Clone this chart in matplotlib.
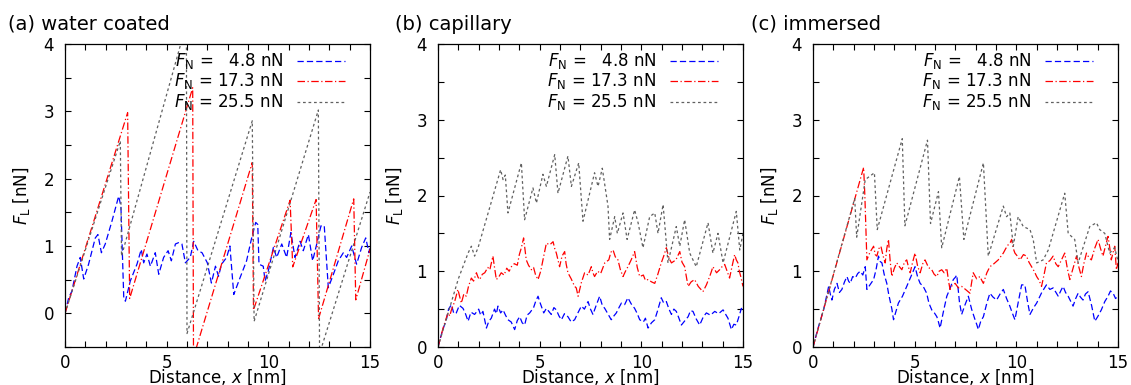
import matplotlib
matplotlib.use("Agg")
import matplotlib.pyplot as plt
from matplotlib.ticker import MultipleLocator

# ---- (a) water coated ----
wc_x_48 = [0, 0.18, 0.34, 0.59, 0.75, 0.92, 1.16, 1.49, 1.62, 1.79, 1.98, 2.31,
           2.64, 2.75, 2.89, 2.97, 3.21, 3.54, 3.75, 3.87, 4.03, 4.2, 4.44, 4.61,
           4.85, 5.07, 5.23, 5.43, 5.59, 5.75, 5.92, 6.16, 6.33, 6.54, 6.74, 7.0,
           7.2, 7.4, 7.55, 7.7, 7.95, 8.11, 8.3, 8.61, 8.93, 9.18, 9.38, 9.48,
           9.54, 9.75, 9.84, 10.0, 10.25, 10.41, 10.66, 10.9, 11.11, 11.31, 11.56,
           11.72, 11.97, 12.18, 12.38, 12.59, 12.75, 12.95, 13.2, 13.44, 13.69,
           13.85, 14.1, 14.34, 14.59, 14.79, 14.95, 15.0]
wc_y_48 = [0, 0.23, 0.33, 0.70, 0.83, 0.51, 0.73, 1.12, 1.17, 0.90, 1.03, 1.37,
           1.74, 1.59, 0.23, 0.18, 0.48, 0.73, 0.95, 0.75, 0.88, 0.70, 0.90, 0.58,
           0.83, 0.93, 0.78, 1.03, 1.05, 1.03, 0.75, 0.83, 1.07, 0.93, 0.90, 0.75,
           0.45, 0.70, 0.55, 0.73, 0.83, 1.0, 0.28, 0.53, 0.78, 1.12, 1.35, 1.32,
           0.73, 0.70, 0.48, 0.63, 0.98, 0.83, 1.03, 0.83, 1.20, 0.83, 1.07,
           0.93, 1.17, 0.78, 1.03, 1.30, 1.30, 0.38, 0.58, 0.78, 0.90,
           0.83, 1.0, 0.73, 0.98, 1.12, 0.90, 1.0]
wc_x_173 = [0, 3.08, 3.18, 6.28, 6.32, 9.21, 9.27, 11.07, 11.2, 12.35, 12.47,
            14.2, 14.3, 15]
wc_y_173 = [0, 2.98, 0.22, 3.35, -0.65, 2.24, 0.05, 1.68, 0.69, 1.69, -0.08,
            1.7, 0.2, 0.95]
wc_x_255 = [0, 2.72, 2.78, 5.97, 6.0, 9.21, 9.3, 12.46, 12.52, 15]
wc_y_255 = [0, 2.56, 0.85, 4.3, -0.3, 2.86, -0.12, 3.02, -0.6, 1.8]

# ---- (b) capillary ----
cap_x_48 = [0, 0.2, 0.41, 0.52, 0.66, 0.78, 0.9, 1.05, 1.23, 1.35, 1.48, 1.62,
            1.8, 2.0, 2.1, 2.21, 2.38, 2.5, 2.62, 2.78, 2.87, 2.95, 3.08, 3.2,
            3.32, 3.44, 3.6, 3.77, 3.9, 4.02, 4.14, 4.26, 4.38, 4.51, 4.7, 4.8,
            4.92, 5.0, 5.08, 5.2, 5.33, 5.45, 5.57, 5.7, 5.82, 5.95, 6.07, 6.22,
            6.39, 6.55, 6.72, 6.88, 7.05, 7.2, 7.38, 7.5, 7.62, 7.78, 7.95, 8.08,
            8.2, 8.35, 8.52, 8.65, 8.77, 8.9, 9.02, 9.18, 9.34, 9.5, 9.67, 9.8,
            9.92, 10.1, 10.2, 10.33, 10.5, 10.66, 10.8, 10.98, 11.1, 11.23, 11.36,
            11.48, 11.6, 11.72, 11.85, 11.97, 12.15, 12.3, 12.42, 12.54, 12.7,
            12.87, 13.05, 13.2, 13.4, 13.61, 13.8, 14.02, 14.15, 14.26, 14.35,
            14.43, 14.55, 14.67, 14.8, 14.92, 15.0]
cap_y_48 = [0, 0.2, 0.36, 0.5, 0.56, 0.44, 0.45, 0.55, 0.51, 0.44, 0.34, 0.46,
            0.43, 0.5, 0.42, 0.47, 0.25, 0.34, 0.38, 0.5, 0.44, 0.54, 0.45, 0.49,
            0.42, 0.36, 0.33, 0.23, 0.35, 0.40, 0.32, 0.29, 0.42, 0.45, 0.52, 0.6,
            0.67, 0.6, 0.54, 0.45, 0.51, 0.47, 0.43, 0.52, 0.49, 0.41, 0.36, 0.44,
            0.40, 0.33, 0.36, 0.45, 0.54, 0.5, 0.60, 0.5, 0.43, 0.55, 0.67, 0.55,
            0.51, 0.44, 0.36, 0.41, 0.45, 0.52, 0.58, 0.56, 0.65, 0.57, 0.51, 0.44,
            0.36, 0.33, 0.38, 0.25, 0.32, 0.36, 0.48, 0.65, 0.58, 0.60, 0.5,
            0.43, 0.5, 0.47, 0.38, 0.29, 0.35, 0.40, 0.48, 0.47, 0.37,
            0.29, 0.4, 0.45, 0.42, 0.47, 0.44, 0.49, 0.43, 0.38, 0.3,
            0.23, 0.3, 0.29, 0.4, 0.51, 0.47]
cap_x_173 = [0, 0.25, 0.49, 0.58, 0.66, 0.82, 0.98, 1.07, 1.15, 1.27, 1.39, 1.5,
             1.64, 1.75, 1.89, 1.97, 2.05, 2.18, 2.3, 2.45, 2.55, 2.7, 2.78, 2.87,
             3.0, 3.11, 3.25, 3.38, 3.5, 3.61, 3.75, 3.9, 4.0, 4.1, 4.21, 4.34,
             4.45, 4.59, 4.7, 4.8, 4.92, 5.05, 5.2, 5.33, 5.5, 5.66, 5.74, 5.82,
             5.9, 5.98, 6.1, 6.23, 6.3, 6.39, 6.55, 6.72, 6.8, 6.89, 7.05, 7.21,
             7.38, 7.54, 7.62, 7.7, 7.85, 8.0, 8.2, 8.4, 8.5, 8.61, 8.72, 8.85,
             8.97, 9.1, 9.22, 9.34, 9.5, 9.67, 9.8, 9.92, 10.1, 10.2, 10.33, 10.5,
             10.66, 10.8, 10.98, 11.1, 11.23, 11.35, 11.48, 11.7, 11.89, 12.0,
             12.13, 12.22, 12.3, 12.45, 12.62, 12.8, 13.03, 13.2, 13.36, 13.45,
             13.52, 13.7, 13.85, 13.97, 14.1, 14.22, 14.34, 14.45, 14.59, 14.67,
             14.75, 14.82, 14.89, 15.0]
cap_y_173 = [0, 0.25, 0.45, 0.41, 0.49, 0.6, 0.76, 0.66, 0.58, 0.7, 0.67, 0.8,
             0.91, 0.87, 0.98, 0.92, 0.89, 0.96, 0.98, 1.05, 1.02, 1.20, 1.05, 0.89,
             0.93, 0.98, 0.95, 1.04, 1.0, 1.06, 1.1, 1.08, 1.22, 1.31, 1.44, 1.15,
             1.08, 1.02, 1.05, 0.95, 0.89, 1.0, 1.2, 1.37, 1.35, 1.39, 1.3, 1.24,
             1.15, 1.06, 1.2, 1.26, 1.1, 0.98, 0.9, 0.80, 0.78, 0.67, 0.85, 0.98,
             0.95, 1.06, 0.98, 0.93, 1.0, 0.97, 1.11, 1.15, 1.25, 1.28, 1.19, 1.15,
             1.02, 0.93, 1.0, 1.06, 1.15, 1.26, 1.05, 0.93, 0.95, 0.88, 0.89, 0.86,
             0.84, 0.95, 1.11, 1.2, 1.31, 1.18, 1.11, 1.15, 1.26, 1.12,
             1.06, 0.92, 0.80, 0.86, 0.89, 0.8, 0.73, 0.82, 0.93, 1.0,
             1.06, 0.98, 1.02, 1.06, 1.09, 1.0, 0.91, 1.05, 1.22, 1.15,
             1.11, 1.0, 0.93, 0.80]
cap_x_255 = [0, 0.5, 1.0, 1.48, 1.64, 1.8, 1.97, 3.08, 3.2, 3.31, 3.44, 4.1, 4.26,
             4.67, 4.84, 5.16, 5.33, 5.74, 5.9, 6.39, 6.56, 6.92, 7.13, 7.7, 7.87,
             8.08, 8.36, 8.44, 8.69, 8.82, 9.1, 9.3, 9.67, 9.84, 10.08, 10.41,
             10.66, 10.82, 11.07, 11.23, 11.31, 11.72, 11.89, 12.13, 12.38, 12.7,
             13.28, 13.52, 13.77, 14.02, 14.67, 14.84, 15.0]
cap_y_255 = [0, 0.45, 0.9, 1.24, 1.33, 1.20, 1.31, 2.34, 2.21, 2.27, 1.77, 2.43,
             1.68, 2.10, 1.90, 2.28, 2.12, 2.54, 2.03, 2.52, 2.12, 2.43, 1.66,
             2.30, 2.12, 2.36, 1.86, 1.42, 1.72, 1.50, 1.77, 1.42, 1.81, 1.64,
             1.31, 1.72, 1.77, 1.50, 1.88, 1.37, 1.11, 1.59, 1.33, 1.68, 1.24,
             1.06, 1.64, 1.24, 1.50, 1.11, 1.79, 1.28, 1.50]

# ---- (c) immersed ----
imm_x_48 = [0, 0.25, 0.52, 0.65, 0.77, 0.85, 0.93, 1.05, 1.18, 1.3, 1.42, 1.55,
            1.67, 1.75, 1.83, 1.95, 2.08, 2.2, 2.32, 2.45, 2.57, 2.65, 2.8, 2.98,
            3.1, 3.22, 3.3, 3.39, 3.5, 3.63, 3.72, 3.8, 3.88, 3.96, 4.08, 4.2,
            4.4, 4.61, 4.8, 5.02, 5.15, 5.27, 5.42, 5.59, 5.7, 5.84, 5.97, 6.09,
            6.17, 6.25, 6.4, 6.58, 6.75, 6.9, 7.0, 7.07, 7.2, 7.31, 7.48, 7.64,
            7.8, 7.97, 8.05, 8.13, 8.25, 8.38, 8.55, 8.7, 8.85, 9.03, 9.2, 9.36,
            9.52, 9.68, 9.8, 9.93, 10.1, 10.26, 10.42, 10.55, 10.67, 10.85, 11.0,
            11.25, 11.48, 11.65, 11.81, 11.95, 12.06, 12.2, 12.3, 12.42, 12.55,
            12.68, 12.79, 12.92, 13.04, 13.15, 13.28, 13.4, 13.53, 13.7, 13.86,
            14.0, 14.18, 14.35, 14.51, 14.63, 14.76, 14.88, 15.0]
imm_y_48 = [0, 0.25, 0.49, 0.65, 0.80, 0.7, 0.62, 0.76, 0.84, 0.72, 0.76, 0.86,
            0.93, 0.87, 0.84, 0.93, 0.91, 0.97, 1.0, 0.95, 1.06, 0.76, 0.82, 0.89,
            1.02, 1.20, 1.13, 1.11, 0.96, 0.84, 0.7, 0.60, 0.5, 0.36, 0.47, 0.58,
            0.67, 0.80, 0.92, 1.06, 0.92, 0.84, 0.8, 0.71, 0.58, 0.49, 0.45, 0.40,
            0.33, 0.25, 0.45, 0.67, 0.78, 0.89, 0.92, 0.95, 0.6, 0.43, 0.56, 0.67,
            0.5, 0.36, 0.3, 0.23, 0.34, 0.40, 0.58, 0.71, 0.66, 0.62, 0.7, 0.76,
            0.64, 0.54, 0.45, 0.36, 0.6, 0.82, 0.82, 0.6, 0.43, 0.52, 0.58,
            0.72, 0.82, 0.76, 0.78, 0.72, 0.67, 0.75, 0.80, 0.72, 0.67,
            0.6, 0.54, 0.64, 0.71, 0.66, 0.62, 0.7, 0.73, 0.55, 0.34,
            0.4, 0.49, 0.6, 0.67, 0.74, 0.71, 0.64, 0.67]
imm_x_173 = [0, 1.2, 2.49, 2.55, 2.65, 2.8, 2.98, 3.06, 3.14, 3.24, 3.34, 3.45,
             3.55, 3.63, 3.71, 3.8, 3.88, 4.0, 4.12, 4.25, 4.37, 4.5, 4.61, 4.7,
             4.78, 4.9, 5.02, 5.15, 5.27, 5.4, 5.51, 5.68, 5.84, 5.96, 6.09, 6.2,
             6.33, 6.45, 6.58, 6.66, 6.74, 6.86, 6.99, 7.15, 7.31, 7.5, 7.72, 7.8,
             7.88, 8.05, 8.21, 8.3, 8.38, 8.55, 8.7, 8.9, 9.11, 9.25, 9.36, 9.48,
             9.6, 9.7, 9.77, 9.85, 9.93, 10.05, 10.18, 10.35, 10.5, 10.62, 10.75,
             10.88, 11.0, 11.12, 11.24, 11.36, 11.48, 11.65, 11.81, 11.94, 12.06,
             12.22, 12.38, 12.5, 12.63, 12.8, 12.96, 13.08, 13.2, 13.32, 13.45,
             13.57, 13.69, 13.85, 14.02, 14.14, 14.26, 14.4, 14.51, 14.6, 14.67,
             14.76, 14.84, 14.92, 15.0]
imm_y_173 = [0, 1.14, 2.37, 2.0, 1.15, 1.25, 1.33, 1.22, 1.20, 1.3, 1.33, 1.2,
             1.11, 1.3, 1.42, 1.12, 0.93, 1.04, 1.11, 1.06, 1.02, 1.12, 1.15, 1.05,
             0.98, 1.12, 1.24, 1.06, 0.98, 1.1, 1.15, 1.05, 1.02, 0.96, 0.93, 1.0,
             1.02, 0.98, 1.04, 0.88, 0.76, 0.82, 0.84, 0.78, 0.80, 0.76, 0.71, 0.85,
             0.98, 0.9, 0.93, 0.88, 0.84, 0.98, 1.06, 1.1, 1.15, 1.2, 1.24, 1.3,
             1.35, 1.38, 1.42, 1.3, 1.24, 1.2, 1.15, 1.22, 1.20, 1.12, 1.06,
             1.0, 0.93, 0.88, 0.80, 0.95, 1.11, 1.14, 1.20, 1.1, 1.06,
             1.15, 1.24, 1.05, 0.89, 1.05, 1.20, 1.05, 0.93, 1.1, 1.24,
             1.18, 1.15, 1.3, 1.42, 1.3, 1.20, 1.35, 1.46, 1.3, 1.15,
             1.25, 1.33, 1.02, 1.11]
imm_x_255 = [0, 2.05, 2.15, 2.57, 3.02, 3.16, 4.39, 4.52, 5.63, 5.78, 6.17, 6.33,
             7.2, 7.42, 8.38, 8.62, 9.36, 9.52, 9.68, 9.85, 10.09, 10.34, 10.67,
             10.83, 11.0, 11.32, 11.57, 12.38, 12.55, 12.87, 13.04, 13.61, 13.94,
             14.1, 14.35, 14.59, 14.84, 15.0]
imm_y_255 = [0, 1.96, 1.45, 2.21, 2.30, 1.55, 2.75, 1.60, 2.73, 1.63, 2.05, 1.31,
             2.25, 1.42, 2.43, 1.20, 1.86, 1.72, 1.77, 1.33, 1.72, 1.59, 1.55,
             1.42, 1.11, 1.15, 1.28, 2.03, 1.50, 1.42, 1.11, 1.59, 1.64,
             1.55, 1.50, 1.24, 1.31, 1.13]

titles = ["(a) water coated", "(b) capillary", "(c) immersed"]
legend_labels = [r"$F_{\rm N}$ =   4.8 nN", r"$F_{\rm N}$ = 17.3 nN",
                 r"$F_{\rm N}$ = 25.5 nN"]
ylims = [(-0.5, 4), (0, 4), (0, 4)]

series = [
    [(wc_x_48, wc_y_48), (wc_x_173, wc_y_173), (wc_x_255, wc_y_255)],
    [(cap_x_48, cap_y_48), (cap_x_173, cap_y_173), (cap_x_255, cap_y_255)],
    [(imm_x_48, imm_y_48), (imm_x_173, imm_y_173), (imm_x_255, imm_y_255)],
]
styles = [
    dict(color="#0000ff", ls=(0, (5, 2.5))),
    dict(color="#ff0000", ls=(0, (6, 2, 1, 2))),
    dict(color="#606060", ls=(0, (2.2, 2.2))),
]

plt.rcParams["font.size"] = 12
plt.rcParams["mathtext.fontset"] = "dejavusans"

fig = plt.figure(figsize=(11.31, 3.85), dpi=100)
W, H = 1131, 385
lefts = [65, 438, 813]
title_x = [8, 395, 751]

for i in range(3):
    ax = fig.add_axes([lefts[i] / W, (H - 347) / H, 305 / W, 303 / H])
    for (x, y), st in zip(series[i], styles):
        ax.plot(x, y, lw=0.9, **st)
    ax.set_xlim(0, 15)
    ax.set_ylim(*ylims[i])
    ax.xaxis.set_major_locator(MultipleLocator(5))
    ax.xaxis.set_minor_locator(MultipleLocator(1))
    ax.yaxis.set_major_locator(MultipleLocator(1))
    ax.yaxis.set_minor_locator(MultipleLocator(0.5))
    ax.tick_params(which="both", direction="in", top=True, right=True,
                   length=4.5, width=0.8, labelsize=12)
    ax.tick_params(axis="x", pad=5)
    ax.tick_params(axis="y", pad=8)
    for s in ax.spines.values():
        s.set_linewidth(0.9)
    ax.set_xlabel(r"Distance, $x$ [nm]", fontsize=12, labelpad=-3)
    ax.set_ylabel(r"$F_{\rm L}$ [nN]", fontsize=12)
    ax.yaxis.set_label_coords(-0.108, 0.5)

    # key, gnuplot style: text right aligned, sample on the right
    for k, (lab, st) in enumerate(zip(legend_labels, styles)):
        yk = 0.944 - k * 0.067
        ax.text(0.715, yk - 0.017, lab, transform=ax.transAxes,
                ha="right", va="baseline", fontsize=12)
        ax.plot([0.761, 0.918], [yk, yk], transform=ax.transAxes,
                lw=0.9, **st)

    fig.text(title_x[i] / W, 1 - 24 / H, titles[i], ha="left", va="center",
             fontsize=14)

fig.savefig("out.png", dpi=100)
